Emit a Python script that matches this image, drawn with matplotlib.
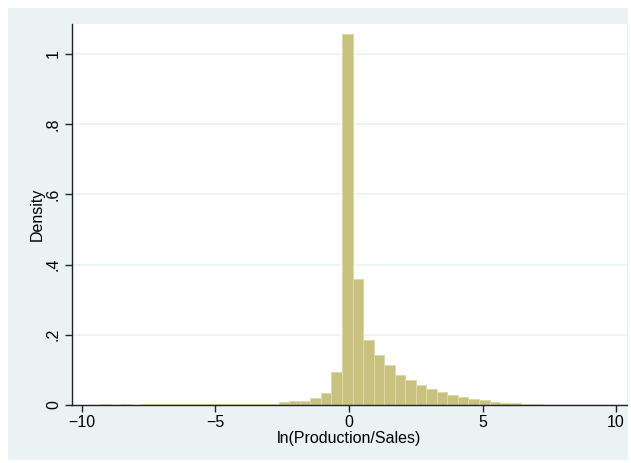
import matplotlib
matplotlib.use("Agg")
import matplotlib.pyplot as plt
from matplotlib.patches import Rectangle
import numpy as np

plt.rcParams['font.family'] = ['Liberation Sans', 'DejaVu Sans']

# Histogram bins (left edge, width) and densities
bin_start = -9.34
bin_width = 0.3947
densities = [0.002, 0.0, 0.002, 0.0, 0.002, 0.002, 0.002, 0.002, 0.002, 0.002,
             0.002, 0.002, 0.002, 0.002, 0.002, 0.002, 0.002, 0.009, 0.012, 0.011,
             0.019, 0.033, 0.094, 1.057, 0.360, 0.185, 0.143, 0.114, 0.085, 0.070,
             0.057, 0.046, 0.036, 0.029, 0.023, 0.018, 0.013, 0.009, 0.006, 0.005,
             0.004, 0.002, 0.001, 0.001, 0.001, 0.001, 0.001, 0.001, 0.001]
x_ticks = [-10, -5, 0, 5, 10]
x_ticklabels = ['\u221210', '\u22125', '0', '5', '10']
y_ticks = [0, 0.2, 0.4, 0.6, 0.8, 1.0]
y_ticklabels = ['0', '.2', '.4', '.6', '.8', '1']

W, H = 631, 463
fig = plt.figure(figsize=(W / 100, H / 100), dpi=100, facecolor='white')
bg = '#EAF2F3'
fig.patches.append(Rectangle((8 / W, 3 / H), (628 - 8) / W, (455 - 3) / H,
                             transform=fig.transFigure, facecolor=bg,
                             edgecolor='none', zorder=-10))

ax = fig.add_axes([72 / W, (H - 405) / H, (627 - 72) / W, (405 - 24) / H])
ax.set_facecolor('white')

lefts = bin_start + bin_width * np.arange(len(densities))
ax.bar(lefts, densities, width=bin_width, align='edge',
       facecolor='#C9C17F', edgecolor='#DDD8AA', linewidth=0.7, zorder=2)

ax.set_xlim(-10.37, 10.41)
ax.set_ylim(0, 1.085)
ax.set_xticks(x_ticks)
ax.set_xticklabels(x_ticklabels)
ax.set_yticks(y_ticks)
ax.set_yticklabels(y_ticklabels, rotation=90, va='center')
ax.yaxis.grid(True, color=bg, linewidth=1.2, zorder=0)
ax.set_axisbelow(True)

for s in ['top', 'right']:
    ax.spines[s].set_visible(False)
for s in ['left', 'bottom']:
    ax.spines[s].set_color('#222222')
    ax.spines[s].set_linewidth(1.0)
ax.tick_params(axis='both', direction='out', length=5, width=1.0,
               color='#222222', labelsize=11.5, labelcolor='black')
ax.tick_params(axis='y', pad=3)
ax.tick_params(axis='x', pad=2)

ax.set_xlabel('ln(Production/Sales)', fontsize=11.5, labelpad=1)
ax.set_ylabel('Density', fontsize=11.5, labelpad=1)

fig.savefig('out.png', dpi=100, facecolor='white')
